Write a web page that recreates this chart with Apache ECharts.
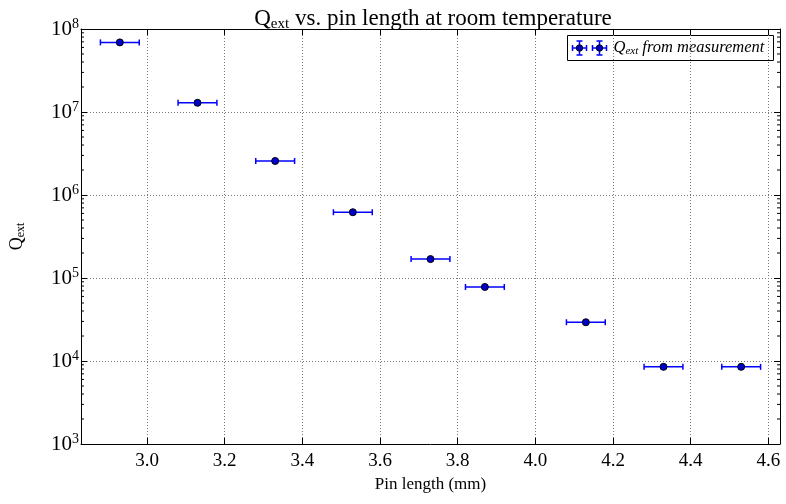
<!DOCTYPE html>
<html>
<head>
<meta charset="utf-8">
<script src="https://cdn.jsdelivr.net/npm/echarts@6/dist/echarts.min.js"></script>
<style>html,body{margin:0;padding:0;background:#fff}#c{width:786px;height:504px}</style>
</head>
<body>
<div id="c"></div>
<script>
// ---- data ----
const pinLength = [2.93, 3.13, 3.33, 3.53, 3.73, 3.87, 4.13, 4.33, 4.53];
const qExt = [6.9e7, 1.29e7, 2.57e6, 6.2e5, 1.69e5, 7.8e4, 2.93e4, 8.5e3, 8.5e3];
const xErr = [0.05, 0.05, 0.05, 0.05, 0.05, 0.05, 0.05, 0.05, 0.05];
const xTicks = [3.0, 3.2, 3.4, 3.6, 3.8, 4.0, 4.2, 4.4, 4.6];
const xRange = [2.83, 4.63];
const yRange = [1e3, 1e8];
const minorMultipliers = [2, 3, 4, 5, 6, 7, 8, 9];
const minorDecades = [1e3, 1e4, 1e5, 1e6, 1e7];

const FONT = 'Liberation Serif';
const minorValues = [];
minorDecades.forEach(d => minorMultipliers.forEach(m => minorValues.push([xRange[0], m * d])));

const chart = echarts.init(document.getElementById('c'), null, {renderer: 'canvas'});
const frameLine = {show: true, lineStyle: {color: '#000', width: 1}};
const gridLine = {show: true, lineStyle: {color: '#777', type: [1, 2], width: 1}};
const option = {
  backgroundColor: '#fff',
  animation: false,
  title: {
    text: '{a|Q}{s|ext}{a| vs. pin length at room temperature}',
    left: 428, top: 1, textAlign: 'center',
    textStyle: {
      fontWeight: 'normal',
      rich: {
        a: {fontFamily: FONT, fontWeight: 'normal', fontSize: 23, color: '#000', lineHeight: 26},
        s: {fontFamily: FONT, fontWeight: 'normal', fontSize: 15, color: '#000', verticalAlign: 'bottom', lineHeight: 17}
      }
    }
  },
  grid: {left: 77, right: 6, top: 29, bottom: 60, containLabel: false},
  xAxis: [{
    type: 'value', min: xRange[0], max: xRange[1], position: 'bottom',
    name: 'Pin length (mm)', nameLocation: 'middle', nameGap: 32,
    nameTextStyle: {fontFamily: FONT, fontSize: 17, color: '#000'},
    axisLine: frameLine,
    axisTick: {show: true, inside: true, length: 6, customValues: xTicks, lineStyle: {color: '#000'}},
    axisLabel: {customValues: xTicks, fontFamily: FONT, fontSize: 19, color: '#000', margin: 8,
      formatter: v => v.toFixed(1)},
    splitLine: gridLine
  }, {
    type: 'value', min: xRange[0], max: xRange[1], position: 'top',
    axisLine: frameLine,
    axisTick: {show: true, inside: true, length: 6, customValues: xTicks, lineStyle: {color: '#000'}},
    axisLabel: {show: false},
    splitLine: {show: false}
  }],
  yAxis: [{
    type: 'log', logBase: 10, min: yRange[0], max: yRange[1], position: 'left', interval: 1,
    name: '{a|Q}{s|ext}', nameLocation: 'middle', nameGap: 54, nameRotate: 90,
    nameTextStyle: {rich: {
      a: {fontFamily: FONT, fontSize: 18, color: '#000', lineHeight: 20},
      s: {fontFamily: FONT, fontSize: 12, color: '#000', verticalAlign: 'bottom', lineHeight: 14}
    }},
    axisLine: frameLine,
    axisTick: {show: true, inside: true, length: 6, lineStyle: {color: '#000'}},
    axisLabel: {
      margin: 2,
      formatter: v => '{b|10}{s|' + Math.round(Math.log10(v)) + '}',
      rich: {
        b: {fontFamily: FONT, fontSize: 21, color: '#000', lineHeight: 24},
        s: {fontFamily: FONT, fontSize: 14, color: '#000', verticalAlign: 'top', lineHeight: 14}
      }
    },
    splitLine: gridLine
  }, {
    type: 'log', logBase: 10, min: yRange[0], max: yRange[1], position: 'right', interval: 1,
    axisLine: frameLine,
    axisTick: {show: true, inside: true, length: 6, lineStyle: {color: '#000'}},
    axisLabel: {show: false},
    splitLine: {show: false}
  }],
  graphic: [{
    type: 'group', left: 567, top: 35,
    children: [
      {type: 'rect', shape: {x: 0, y: 0, width: 206, height: 25}, style: {fill: '#fff', stroke: '#000', lineWidth: 1}},
      {type: 'line', shape: {x1: 5, y1: 12.5, x2: 19, y2: 12.5}, style: {stroke: '#0000ff', lineWidth: 1.5}},
      {type: 'line', shape: {x1: 5, y1: 9.5, x2: 5, y2: 15.5}, style: {stroke: '#0000ff', lineWidth: 1.5}},
      {type: 'line', shape: {x1: 19, y1: 9.5, x2: 19, y2: 15.5}, style: {stroke: '#0000ff', lineWidth: 1.5}},
      {type: 'line', shape: {x1: 12, y1: 5.5, x2: 12, y2: 19.5}, style: {stroke: '#0000ff', lineWidth: 1.5}},
      {type: 'line', shape: {x1: 9, y1: 5.5, x2: 15, y2: 5.5}, style: {stroke: '#0000ff', lineWidth: 1.5}},
      {type: 'line', shape: {x1: 9, y1: 19.5, x2: 15, y2: 19.5}, style: {stroke: '#0000ff', lineWidth: 1.5}},
      {type: 'circle', shape: {cx: 12, cy: 12.5, r: 3.2}, style: {fill: '#0000cc', stroke: '#000', lineWidth: 1}},
      {type: 'line', shape: {x1: 25, y1: 12.5, x2: 39, y2: 12.5}, style: {stroke: '#0000ff', lineWidth: 1.5}},
      {type: 'line', shape: {x1: 25, y1: 9.5, x2: 25, y2: 15.5}, style: {stroke: '#0000ff', lineWidth: 1.5}},
      {type: 'line', shape: {x1: 39, y1: 9.5, x2: 39, y2: 15.5}, style: {stroke: '#0000ff', lineWidth: 1.5}},
      {type: 'line', shape: {x1: 32, y1: 5.5, x2: 32, y2: 19.5}, style: {stroke: '#0000ff', lineWidth: 1.5}},
      {type: 'line', shape: {x1: 29, y1: 5.5, x2: 35, y2: 5.5}, style: {stroke: '#0000ff', lineWidth: 1.5}},
      {type: 'line', shape: {x1: 29, y1: 19.5, x2: 35, y2: 19.5}, style: {stroke: '#0000ff', lineWidth: 1.5}},
      {type: 'circle', shape: {cx: 32, cy: 12.5, r: 3.2}, style: {fill: '#0000cc', stroke: '#000', lineWidth: 1}},
      {type: 'text', x: 46, y: 12.5, style: {
        text: '{a|Q}{s|ext}{a| from measurement}', verticalAlign: 'middle',
        rich: {
          a: {fontFamily: FONT, fontStyle: 'italic', fontSize: 16.5, fill: '#000', lineHeight: 18},
          s: {fontFamily: FONT, fontStyle: 'italic', fontSize: 11, fill: '#000', verticalAlign: 'bottom', lineHeight: 12}
        }
      }}
    ]
  }],
  series: [{
    name: 'minor ticks', type: 'custom', xAxisIndex: 0, yAxisIndex: 0, silent: true, clip: false,
    data: minorValues, z: 5,
    renderItem: (params, api) => {
      const v = api.value(1);
      const l = api.coord([xRange[0], v]);
      const r = api.coord([xRange[1], v]);
      const st = {stroke: '#000', lineWidth: 1};
      return {type: 'group', children: [
        {type: 'line', shape: {x1: l[0], y1: l[1], x2: l[0] + 3, y2: l[1]}, style: st},
        {type: 'line', shape: {x1: r[0], y1: r[1], x2: r[0] - 3, y2: r[1]}, style: st}
      ]};
    }
  }, {
    name: 'xerr', type: 'custom', xAxisIndex: 0, yAxisIndex: 0, silent: true, z: 6,
    data: pinLength.map((x, i) => [x, qExt[i], xErr[i]]),
    renderItem: (params, api) => {
      const x = api.value(0), y = api.value(1), e = api.value(2);
      const p0 = api.coord([x - e, y]);
      const p1 = api.coord([x + e, y]);
      const st = {stroke: '#0000ff', lineWidth: 1.5};
      return {type: 'group', children: [
        {type: 'line', shape: {x1: p0[0], y1: p0[1], x2: p1[0], y2: p1[1]}, style: st},
        {type: 'line', shape: {x1: p0[0], y1: p0[1] - 3, x2: p0[0], y2: p0[1] + 3}, style: st},
        {type: 'line', shape: {x1: p1[0], y1: p1[1] - 3, x2: p1[0], y2: p1[1] + 3}, style: st}
      ]};
    }
  }, {
    name: 'Qext from measurement', type: 'scatter', xAxisIndex: 0, yAxisIndex: 0, z: 7,
    symbol: 'circle', symbolSize: 7,
    itemStyle: {color: '#0000cc', borderColor: '#000', borderWidth: 1, opacity: 1},
    data: pinLength.map((x, i) => [x, qExt[i]])
  }]
};
chart.setOption(option);
</script>
</body>
</html>
